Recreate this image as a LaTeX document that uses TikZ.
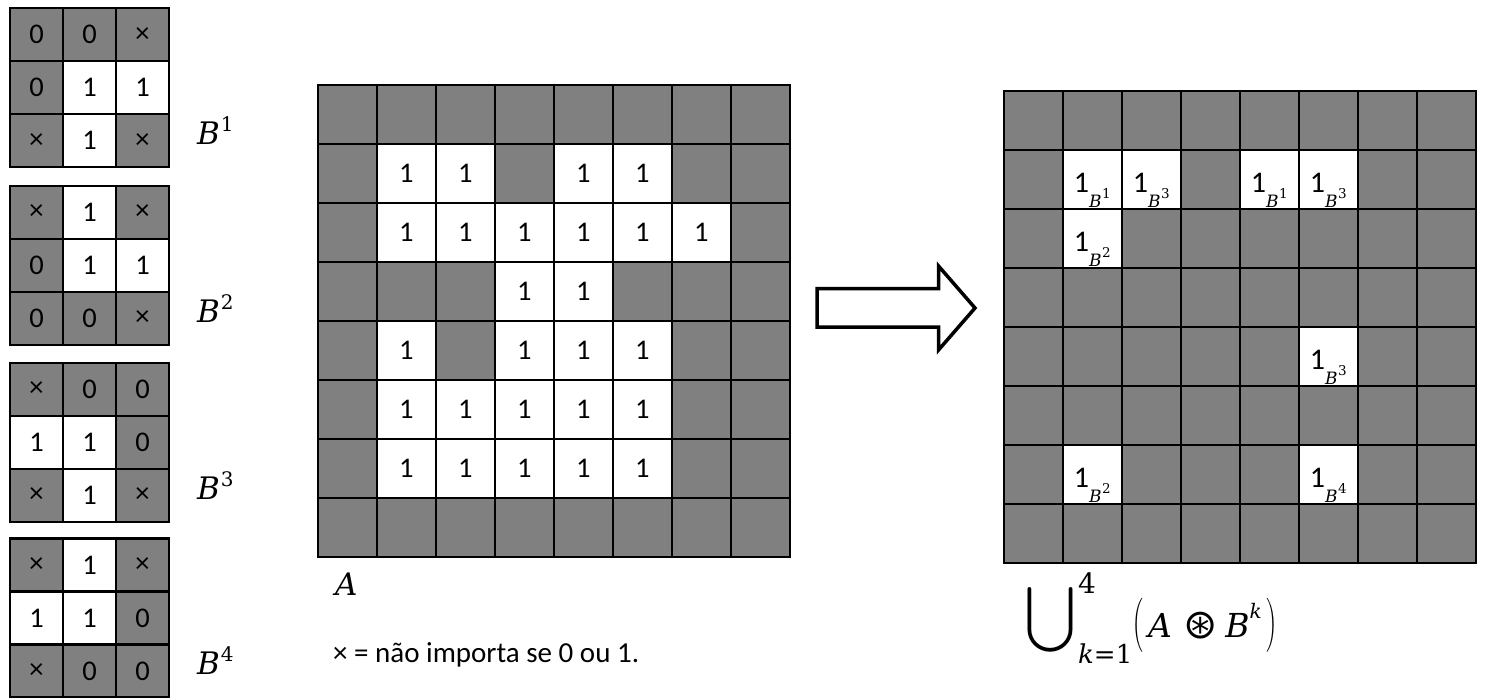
\documentclass[tikz,border=0pt]{standalone}
\usepackage{amssymb}
\usepackage{graphicx}
\usepackage{fontspec}
\setmainfont{Carlito}
\newfontfamily\eqfont{DejaVu Serif}
\newfontfamily\opfont{DejaVu Sans}
% raised (or lowered) piece of text at a given size
\newcommand\eqsup[3]{\raisebox{#1}{\fontsize{#2}{#2}\selectfont #3}}
\definecolor{cellgrey}{HTML}{808080}
\tikzset{
  cellbox/.style={draw=black, line width=2.2pt, inner sep=0pt, minimum size=#1,
    font=\fontsize{28.5}{34}\selectfont},
  offcell/.style={fill=cellgrey},
  oncell/.style={fill=white},
  % structuring-element cells: 0, 1 or "don't care"
  kv0/.style={offcell, /utils/exec=\def\celltext{0}},
  kv1/.style={oncell, /utils/exec=\def\celltext{1}},
  kvx/.style={offcell, /utils/exec=\def\celltext{×}},
  % image cells
  av0/.style={offcell, /utils/exec=\def\celltext{}},
  av1/.style={oncell, /utils/exec=\def\celltext{1}},
  % result cells: 0 = background, k = hit by B^k
  rv0/.style={offcell},
  rv1/.style={oncell}, rv2/.style={oncell}, rv3/.style={oncell}, rv4/.style={oncell},
  hitlabel/.style={anchor=base, inner sep=0pt, font=\fontsize{30}{36}\selectfont},
  mathlab/.style={inner sep=0pt, anchor=base west, font=\eqfont},
  caption/.style={inner sep=0pt, anchor=base west, font=\fontsize{29}{34}\selectfont},
  bigarrow/.style={draw=black, fill=white, line width=3.5pt, line join=miter},
}
\begin{document}
\begin{tikzpicture}[x=1pt, y=-1pt]
\useasboundingbox (0,0) rectangle (1488,698);

% the four structuring elements B^1 ... B^4
\foreach \kn/\ytop/\vals in {1/8.3/{0,0,x,0,1,1,x,1,x},
                             2/186/{x,1,x,0,1,1,0,0,x},
                             3/363/{x,0,0,1,1,0,x,1,x},
                             4/538.5/{x,1,x,1,1,0,x,0,0}} {
  \foreach \v [count=\i from 0] in \vals {
    \pgfmathtruncatemacro\rr{int(\i/3)}
    \pgfmathtruncatemacro\cc{mod(\i,3)}
    \node[cellbox=53pt, kv\v] (b\kn-\rr-\cc)
      at ({10+(\cc+0.5)*53}, {\ytop+(\rr+0.5)*53}) {\celltext};
  }
  \node[mathlab] (lab-b\kn) at (197, \ytop+136)
    {\fontsize{31}{34}\selectfont\itshape B\kern1pt\eqsup{13pt}{20}{\upshape\kn}};
}

% input image A
\foreach \row [count=\r from 0] in {
    {0,0,0,0,0,0,0,0},{0,1,1,0,1,1,0,0},{0,1,1,1,1,1,1,0},{0,0,0,1,1,0,0,0},
    {0,1,0,1,1,1,0,0},{0,1,1,1,1,1,0,0},{0,1,1,1,1,1,0,0},{0,0,0,0,0,0,0,0}} {
  \foreach \v [count=\c from 0] in \row {
    \node[cellbox=59pt, av\v] (A-\r-\c)
      at ({317.8+(\c+0.5)*59}, {85+(\r+0.5)*59}) {\celltext};
  }
}
\node[mathlab] (lab-A) at (335, 595) {\fontsize{31}{34}\selectfont\itshape A};

% legend for the don't-care symbol
\node[caption] (legend) at (333, 662) {× = não importa se 0 ou 1.};

% block arrow
\draw[bigarrow] (817,288.5) -- (938.5,288.5) -- (938.5,266) -- (975,308)
  -- (938.5,350) -- (938.5,327) -- (817,327) -- cycle;

% union of the hit-or-miss transforms
\foreach \row [count=\r from 0] in {
    {0,0,0,0,0,0,0,0},{0,1,3,0,1,3,0,0},{0,2,0,0,0,0,0,0},{0,0,0,0,0,0,0,0},
    {0,0,0,0,0,3,0,0},{0,0,0,0,0,0,0,0},{0,2,0,0,0,4,0,0},{0,0,0,0,0,0,0,0}} {
  \foreach \v [count=\c from 0] in \row {
    \node[cellbox=59pt, rv\v] (R-\r-\c)
      at ({1003.7+(\c+0.5)*59}, {91+(\r+0.5)*59}) {};
    \ifnum\v>0
      \node[hitlabel] (R-lab-\r-\c) at ([yshift=-12.5pt]R-\r-\c.center)
        {1\raisebox{-15pt}{\eqfont\fontsize{17}{18}\selectfont\itshape
          B\kern0.5pt\eqsup{9pt}{13.5}{\upshape\v}}};
    \fi
  }
}

% formula below the result
\node[anchor=north west, inner sep=0pt] (cup) at (1025,583)
  {\resizebox*{50pt}{74pt}{$\displaystyle\bigcup$}};
\node[mathlab] (cup-up) at (1078,593) {\fontsize{28}{30}\selectfont 4};
\node[mathlab] (cup-lo) at (1078,663) {\fontsize{26}{30}\selectfont\itshape k\upshape=1};
\node[mathlab] (cup-arg) at (1132,637)
  {\raisebox{4.5pt}{\resizebox*{11pt}{54pt}{$\Bigl($}}\hspace{5pt}%
   {\fontsize{33}{36}\selectfont\itshape A}\hspace{11pt}%
   \raisebox{-1.5pt}{\opfont\fontsize{41}{42}\selectfont ⊛}\hspace{8pt}%
   {\fontsize{33}{36}\selectfont\itshape B\eqsup{19pt}{20}{k}}\hspace{5pt}%
   \raisebox{4.5pt}{\resizebox*{11pt}{54pt}{$\Bigr)$}}};
\end{tikzpicture}
\end{document}
